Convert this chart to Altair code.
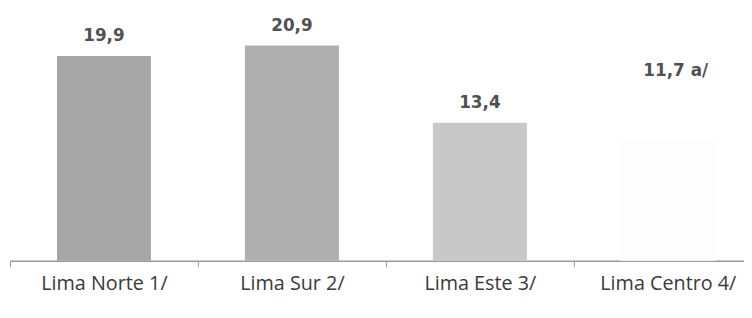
import altair as alt
import pandas as pd

categories = ["Lima Norte 1/", "Lima Sur 2/", "Lima Este 3/", "Lima Centro 4/"]
values = [19.9, 20.9, 13.4, 11.7]
labels = ["19,9", "20,9", "13,4", "11,7 a/"]
colors = ["#a7a7a7", "#afafaf", "#c8c8c8", "#fdfdfd"]

df = pd.DataFrame({"cat": categories, "val": values, "lab": labels})

x = alt.X("cat:N", sort=categories, title=None,
          scale=alt.Scale(range=[0, 760], paddingInner=0.5, paddingOuter=0.25),
          axis=alt.Axis(labelAngle=0, labelFontSize=20, tickOffset=-95, labelOffset=95,
                        labelFont="Open Sans", labelColor="#3a3a3a", labelPadding=7,
                        domainColor="#9a9a9a", domainWidth=1.5, tickColor="#9a9a9a",
                        tickSize=6, grid=False))
y = alt.Y("val:Q", scale=alt.Scale(domain=[0, 24.4], nice=False), axis=None)

bars = alt.Chart(df).mark_bar().encode(
    x=x, y=y,
    color=alt.Color("cat:N", scale=alt.Scale(domain=categories, range=colors), legend=None),
)

base_text = dict(font="DejaVu Sans", fontWeight="bold", fontSize=17, color="#505050",
                 baseline="middle", align="center")

txt = alt.Chart(df).transform_filter(alt.datum.cat != "Lima Centro 4/").mark_text(
    dy=-20, **base_text).encode(x=alt.X("cat:N", sort=categories), y="val:Q", text="lab:N")

txt_c = alt.Chart(df).transform_filter(alt.datum.cat == "Lima Centro 4/").mark_text(
    dy=-70, dx=8, **base_text).encode(x=alt.X("cat:N", sort=categories), y="val:Q", text="lab:N")

chart = alt.layer(bars, txt, txt_c).properties(
    width=742, height=254, background="white",
    autosize=alt.AutoSizeParams(type="none"),
    padding={"left": 2, "top": 0, "right": 0, "bottom": 40},
).configure_view(stroke=None)

chart.save("out.html", embed_options={"renderer": "svg", "actions": False})
